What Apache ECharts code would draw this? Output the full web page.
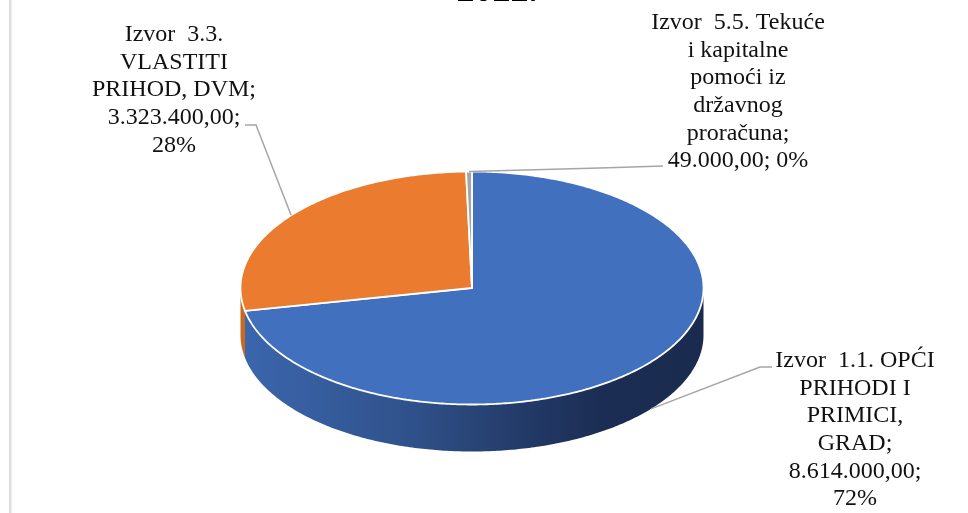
<!DOCTYPE html>
<html><head><meta charset="utf-8">
<style>html,body{margin:0;padding:0;background:#fff}#c{width:968px;height:513px}</style>
<script src="https://cdn.jsdelivr.net/npm/echarts@6/dist/echarts.min.js"></script>
</head><body><div id="c"></div>
<script>
const sources = ['Izvor 1.1', 'Izvor 3.3', 'Izvor 5.5'];
const amounts = [8614000, 3323400, 49000];
const topColors = ['#4170BE', '#EA7B2F', '#A5A5A5'];
const labelLines = [
  ['Izvor  1.1. OPĆI', 'PRIHODI I', 'PRIMICI,', 'GRAD;', '8.614.000,00;', '72%'],
  ['Izvor  3.3.', 'VLASTITI', 'PRIHOD, DVM;', '3.323.400,00;', '28%'],
  ['Izvor  5.5. Tekuće', 'i kapitalne', 'pomoći iz', 'državnog', 'proračuna;', '49.000,00; 0%']
];
const titleText = '2022.';

// layout
const cx = 472, cy = 288, rx = 231.5, ry = 116.5, depth = 47;
const labelBox = [{x:855,y:361},{x:174,y:35},{x:738,y:23}];
const leaderStart = [[772,367],[245,125],[663,166]];
const leaderElbow = [[760,367],[256,125],[600,168]];
const lineH = 27.6;

const total = amounts.reduce((a,b)=>a+b,0);
const deg = v => v/total*360;
const starts = amounts.map((_,i)=>amounts.slice(0,i).reduce((a,b)=>a+b,0)).map(deg);
const pt = (t,dy=0)=>{const r=t*Math.PI/180;return [cx+rx*Math.sin(r),cy-ry*Math.cos(r)+dy];};
const arc = (a,b,dy=0)=>{const n=Math.max(2,Math.ceil((b-a)*1.5)),o=[];for(let i=0;i<=n;i++)o.push(pt(a+(b-a)*i/n,dy));return o;};

const wallFill = [
  {type:'linear',x:0,y:0,x2:1,y2:0,colorStops:[
    {offset:0,color:'#3B66AD'},{offset:0.35,color:'#30528C'},{offset:0.6,color:'#233B69'},{offset:0.78,color:'#1B2D53'},{offset:1,color:'#1A2B4F'}]},
  '#C9691F','#8C8C8C'
];

function renderWall(params, api){
  const i = params.dataIndex, a = starts[i], b = a+deg(api.value(0));
  const lo = Math.max(a,90), hi = Math.min(b,270);
  if (hi<=lo) return {type:'group',children:[]};
  const pts = arc(lo,hi).concat(arc(lo,hi,depth).reverse());
  return {type:'polygon',shape:{points:pts},style:{fill:wallFill[i],stroke:null}};
}
function renderTop(params, api){
  const i = params.dataIndex, a = starts[i], b = a+deg(api.value(0));
  const pts = [[cx,cy]].concat(arc(a,b));
  return {type:'polygon',shape:{points:pts},style:{fill:topColors[i],stroke:'#fff',lineWidth:1.8,lineJoin:'miter'}};
}
function renderLabel(params, api){
  const i = params.dataIndex, a = starts[i], mid = a+deg(api.value(0))/2;
  const front = mid>90 && mid<270;
  const end = pt(mid, front?depth:0);
  const children = [{type:'polyline',shape:{points:[leaderStart[i],leaderElbow[i],end]},
    style:{fill:null,stroke:'#A6A6A6',lineWidth:1.5}}];
  labelLines[i].forEach((t,k)=>children.push({type:'text',x:labelBox[i].x,y:labelBox[i].y+k*lineH,
    style:{text:t,fill:'#111',font:'24px "Liberation Serif"',align:'center',verticalAlign:'middle'}}));
  return {type:'group',children};
}
const chart = echarts.init(document.getElementById('c'),null,{renderer:'canvas'});
const seriesData = amounts.map((v,i)=>({name:sources[i],value:[v]}));
chart.setOption({
  animation:false,
  backgroundColor:'#fff',
  title:{text:titleText,left:492,top:-31,textAlign:'center',textStyle:{fontFamily:'Liberation Serif',fontWeight:'bold',fontSize:36,color:'#000'}},
  graphic:[{type:'rect',shape:{x:9,y:0,width:2.5,height:513},style:{fill:'#DDDDDD'},silent:true}],
  series:[
    {type:'custom',coordinateSystem:'none',renderItem:renderWall,data:seriesData,silent:true,z:1},
    {type:'custom',coordinateSystem:'none',renderItem:renderTop,data:seriesData,silent:true,z:2},
    {type:'custom',coordinateSystem:'none',renderItem:renderLabel,data:seriesData,silent:true,z:3}
  ]
});
</script></body></html>
